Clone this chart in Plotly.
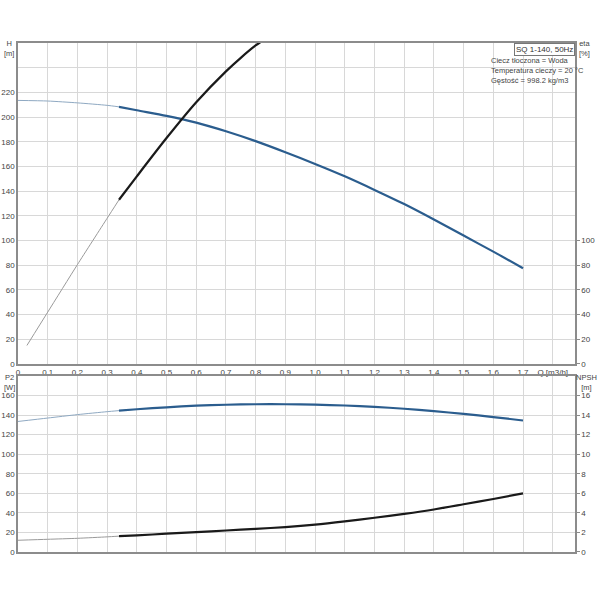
import plotly.graph_objects as go

# flow [m3/h]
q = [0, 0.1, 0.2, 0.3, 0.34, 0.4, 0.5, 0.6, 0.7, 0.8, 0.9, 1.0, 1.1, 1.2, 1.3, 1.4, 1.5, 1.6, 1.7]
head = [213.5, 213, 211.5, 209.5, 208.3, 205.5, 201, 195.5, 188.5, 180.5, 171.5, 162, 152, 141, 129.5, 117, 104, 91, 77.5]
p2 = [133.5, 137, 140.5, 143.5, 144.6, 146, 148, 149.6, 150.6, 151.1, 151.1, 150.7, 149.8, 148.4, 146.5, 144, 141.2, 138, 134.5]
npsh = [1.2, 1.3, 1.4, 1.55, 1.62, 1.7, 1.87, 2.03, 2.2, 2.37, 2.55, 2.8, 3.13, 3.5, 3.9, 4.35, 4.88, 5.42, 6.0]

q_eta = [0.03, 0.1, 0.2, 0.3, 0.34, 0.4, 0.5, 0.6, 0.7, 0.75, 0.8, 0.85]
eta = [15, 42, 80.5, 118, 133, 152, 183, 212, 237, 248, 258, 266]

q_split = 0.34
x_ticks = [0, 0.1, 0.2, 0.3, 0.4, 0.5, 0.6, 0.7, 0.8, 0.9, 1.0, 1.1, 1.2, 1.3, 1.4, 1.5, 1.6, 1.7, 1.8]
x_text = ["0"] + [f"{v:.1f}".replace(".", ",") for v in x_ticks[1:-1]] + ["Q [m3/h]"]
h_ticks = list(range(0, 260, 20))
h_text = [str(v) if v <= 220 else "" for v in h_ticks]
eta_ticks = [0, 20, 40, 60, 80, 100]
p2_ticks = list(range(0, 180, 20))
npsh_ticks = list(range(0, 18, 2))

BLUE = "#2b5d8e"
BLUE_THIN = "#8fa9c2"
BLACK = "#1a1a1a"
GRAY_THIN = "#9a9a9a"
GRID = "#d8d8d8"
AXIS = "#8c8c8c"
FONT = "Liberation Sans"


def split(xs, ys):
    lo = [(x, y) for x, y in zip(xs, ys) if x <= q_split]
    hi = [(x, y) for x, y in zip(xs, ys) if x >= q_split]
    return list(zip(*lo)), list(zip(*hi))


fig = go.Figure()


def add_curve(xs, ys, xa, ya, thin_col, thick_col):
    (lx, ly), (hx, hy) = split(xs, ys)
    fig.add_trace(go.Scatter(x=lx, y=ly, xaxis=xa, yaxis=ya, mode="lines",
                             line=dict(color=thin_col, width=1, shape="spline", smoothing=0.6),
                             hoverinfo="skip"))
    fig.add_trace(go.Scatter(x=hx, y=hy, xaxis=xa, yaxis=ya, mode="lines",
                             line=dict(color=thick_col, width=2.2, shape="spline", smoothing=0.8),
                             hoverinfo="skip"))


add_curve(q, head, "x", "y", BLUE_THIN, BLUE)
add_curve(q_eta, eta, "x", "y2", GRAY_THIN, BLACK)
add_curve(q, p2, "x2", "y3", BLUE_THIN, BLUE)
add_curve(q, npsh, "x2", "y4", GRAY_THIN, BLACK)

top_dom = [0.3694, 1.0]
bot_dom = [0.0, 0.3458]
tick_font = dict(family=FONT, size=8, color="#444")

xcommon = dict(range=[0, 1.875], tickvals=x_ticks, gridcolor=GRID, gridwidth=1,
               showline=True, linecolor=AXIS, linewidth=1.5, mirror=True,
               zeroline=False, tickfont=tick_font, ticks="", automargin=False)
ycommon = dict(showline=True, linecolor=AXIS, linewidth=1.5, zeroline=False,
               tickfont=tick_font, automargin=False)

fig.update_layout(
    width=600, height=600,
    margin=dict(l=18, r=25, t=43, b=48),
    paper_bgcolor="white", plot_bgcolor="white",
    showlegend=False,
    font=dict(family=FONT, size=8, color="#444"),
    xaxis=dict(xcommon, anchor="y", ticktext=x_text, ticklabelstandoff=0),
    xaxis2=dict(xcommon, anchor="y3", ticktext=[""] * len(x_ticks)),
    yaxis=dict(ycommon, domain=top_dom, range=[0, 260], tickvals=h_ticks, ticktext=h_text,
               gridcolor=GRID, ticks="", ticklabelstandoff=0),
    yaxis2=dict(ycommon, domain=top_dom, range=[0, 260], overlaying="y", side="right",
                anchor="x", tickvals=eta_ticks, showgrid=False,
                ticks="outside", ticklen=3, tickcolor=AXIS),
    yaxis3=dict(ycommon, domain=bot_dom, range=[0, 180], tickvals=p2_ticks, anchor="x2",
                gridcolor=GRID, ticks="", ticklabelstandoff=0),
    yaxis4=dict(ycommon, domain=bot_dom, range=[0, 18], overlaying="y3", side="right",
                anchor="x2", tickvals=npsh_ticks, showgrid=False,
                ticks="outside", ticklen=3, tickcolor=AXIS),
)

# axis titles, positions given in reference pixels
labels = [
    ("H<br>[m]", 9, 49, "center"),
    ("eta<br>[%]", 584, 49, "center"),
    ("P2<br>[W]", 9, 382, "center"),
    ("NPSH<br>[m]", 599, 382, "right"),
]
for txt, px_, py_, anc in labels:
    fig.add_annotation(text=txt, xref="paper", yref="paper",
                       x=(px_ - 18) / 557, y=(552 - py_) / 509,
                       showarrow=False, font=dict(family=FONT, size=7.5, color="#444"),
                       xanchor=anc, yanchor="middle", align="center")

fig.add_annotation(text="SQ 1-140, 50Hz", xref="paper", yref="paper",
                   x=1.0, y=1.0, xanchor="right", yanchor="top", showarrow=False,
                   font=dict(family=FONT, size=8, color="#333"),
                   bordercolor="#777", borderwidth=1, borderpad=1, bgcolor="white")

fig.add_annotation(text="Ciecz tłoczona = Woda<br>Temperatura cieczy = 20 °C<br>Gęstość = 998.2 kg/m3",
                   xref="paper", yref="paper", x=(489 - 18) / 557, y=(552 - 54) / 509,
                   xanchor="left", yanchor="top", align="left", showarrow=False,
                   font=dict(family=FONT, size=7.5, color="#444"))

# drop the default 8px page margin so the figure sits at the window corner
fig.write_html("out.html", config={"displayModeBar": False},
               post_script="document.body.style.margin = '0';")
